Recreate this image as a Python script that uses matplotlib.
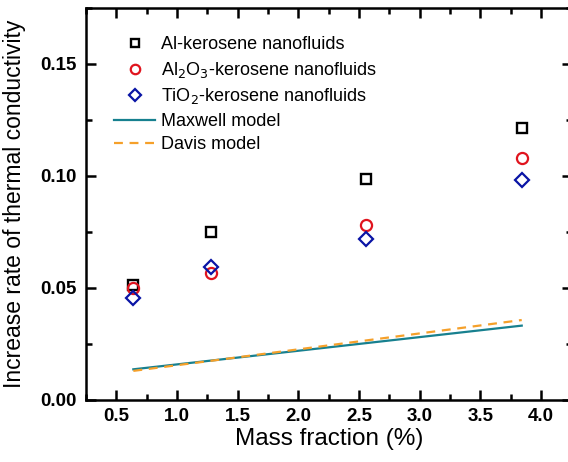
import matplotlib
matplotlib.use("Agg")
import matplotlib.pyplot as plt
from matplotlib.ticker import MultipleLocator

plt.rcParams['font.family'] = ['Liberation Sans', 'DejaVu Sans']

mass_fraction = [0.64, 1.28, 2.56, 3.84]
al_kerosene = [0.0515, 0.0752, 0.0987, 0.1215]
al2o3_kerosene = [0.0500, 0.0568, 0.0780, 0.1080]
tio2_kerosene = [0.0455, 0.0592, 0.0717, 0.0984]
maxwell_model = [0.0137, 0.0176, 0.0254, 0.0332]
davis_model = [0.0130, 0.0175, 0.0266, 0.0357]

labels = ['Al-kerosene nanofluids',
          r'Al$_2$O$_3$-kerosene nanofluids',
          r'TiO$_2$-kerosene nanofluids',
          'Maxwell model', 'Davis model']

fig = plt.figure(figsize=(5.68, 4.62), dpi=100)
ax = fig.add_axes([86 / 568, 62 / 462, (571.5 - 86) / 568, (400 - 8) / 462])

ax.plot(mass_fraction, al_kerosene, linestyle='none', marker='s', ms=6.5,
        mfc='none', mec='black', mew=1.7, label=labels[0])
ax.plot(mass_fraction, al2o3_kerosene, linestyle='none', marker='o', ms=8,
        mfc='none', mec='#e0141e', mew=1.6, label=labels[1])
ax.plot(mass_fraction, tio2_kerosene, linestyle='none', marker='D', ms=7.5,
        mfc='none', mec='#0a14a5', mew=1.6, label=labels[2])
ax.plot(mass_fraction, maxwell_model, color='#17808f', lw=1.6, label=labels[3])
ax.plot(mass_fraction, davis_model, color='#f5a02a', lw=1.6, ls=(0, (4, 3)),
        label=labels[4])

ax.set_xlim(0.25, 4.25)
ax.set_ylim(0.0, 0.175)
ax.xaxis.set_minor_locator(MultipleLocator(0.25))
ax.yaxis.set_minor_locator(MultipleLocator(0.025))
ax.set_xticks([0.5, 1.0, 1.5, 2.0, 2.5, 3.0, 3.5, 4.0])
ax.set_xticklabels(['0.5', '1.0', '1.5', '2.0', '2.5', '3.0', '3.5', '4.0'])
ax.set_yticks([0.00, 0.05, 0.10, 0.15])
ax.set_yticklabels(['0.00', '0.05', '0.10', '0.15'])

for s in ax.spines.values():
    s.set_linewidth(1.8)
ax.tick_params(which='both', direction='in', top=True, right=True, width=1.8)
ax.tick_params(which='major', length=7, labelsize=13.5)
ax.tick_params(axis='y', which='major', pad=7)
ax.tick_params(axis='x', which='major', pad=6)
ax.tick_params(which='minor', length=4)
for t in ax.get_xticklabels() + ax.get_yticklabels():
    t.set_fontweight('bold')

ax.set_xlabel('Mass fraction (%)', fontsize=17.5, labelpad=2)
ax.set_ylabel('Increase rate of thermal conductivity', fontsize=16.5, labelpad=10)

leg = ax.legend(loc='upper left', bbox_to_anchor=(0.035, 0.955), frameon=False,
                fontsize=13, handlelength=2.3, handletextpad=0.3,
                labelspacing=0.36, borderaxespad=0.2, markerscale=0.85)

fig.savefig('out.png', dpi=100)
